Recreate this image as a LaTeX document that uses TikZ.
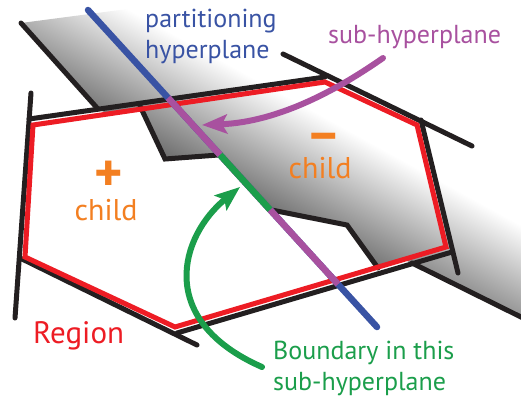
\documentclass[tikz,border=0pt]{standalone}
\usepackage{fontspec}
\setmainfont{PT Sans}
\usetikzlibrary{arrows.meta, calc}
\definecolor{hpblue}{HTML}{3953A4}
\definecolor{subpurple}{HTML}{A8519F}
\definecolor{bndgreen}{HTML}{1B9E4B}
\definecolor{regred}{HTML}{ED1C24}
\definecolor{childorange}{HTML}{F37F21}
\definecolor{edgeblack}{HTML}{231F20}

\begin{document}
\begin{tikzpicture}[
    x=1pt, y=-1pt,
    cutline/.style={draw=edgeblack, line width=5pt, line cap=round, line join=miter},
    regionline/.style={draw=regred, line width=5pt, line join=miter},
    hyperline/.style={draw=hpblue, line width=6.5pt, line cap=round},
    subline/.style={draw=subpurple, line width=6.5pt},
    bndline/.style={draw=bndgreen, line width=6.5pt},
    slabfill/.style={transform canvas={rotate around={-28.8:(470,205)}}, top color=white, bottom color=black!65},
    pointer/.style={line width=6pt, line cap=round, -{Stealth[length=25pt, width=19pt, inset=5pt]}},
    txt/.style={font=\fontsize{26}{31}\selectfont, align=left, inner sep=0pt},
    sign/.style={font=\fontsize{54}{54}\selectfont\bfseries, text=childorange, inner sep=0pt}
]
\useasboundingbox (0,0) rectangle (521,397);

% Points
\coordinate (r1) at (33,125);
\coordinate (r2) at (325,82);
\coordinate (r3) at (417,125);
\coordinate (r4) at (446,247);
\coordinate (r5) at (175,327);
\coordinate (r6) at (25,257);
\coordinate (hp1) at (88,10);
\coordinate (hp2) at (377,327);
\coordinate (sub1) at ($(hp1)!0.277!(hp2)$);
\coordinate (sub2) at ($(hp1)!0.865!(hp2)$);
\coordinate (gs) at ($(hp1)!0.457!(hp2)$);
\coordinate (ge) at ($(hp1)!0.630!(hp2)$);

% Slab
\begin{scope}
  \clip (21,23) -- (135,8) -- (521,-40) -- (521,317) -- (98,109) -- cycle;
  \shade[slabfill] (-700,198) rectangle (1000,325);
\end{scope}
\fill[white] (r1) -- (r2) -- (r3) -- (r4) -- (r5) -- (r6) -- cycle;
\begin{scope}
  \clip (140,107) -- (r2) -- (r3) -- (r4) -- (378,267) -- (347,225) -- (ge) -- (gs) -- (165,159) -- cycle;
  \shade[slabfill] (-700,198) rectangle (1000,325);
\end{scope}

% Edges
\draw[cutline] (31,93) -- (15,318);
\draw[cutline] (29,119) -- (325,77);
\draw[cutline] (283,54) -- (472,146);
\draw[cutline] (421,120) -- (458,273);
\draw[cutline] (452,252) -- (177,333);
\draw[cutline] (20,258) -- (197,345);
\draw[cutline] (140,106) -- (165,159) -- (gs);
\draw[cutline] (ge) -- (347,225) -- (378,268);
\draw[cutline] (21,23) -- (98,109);
\draw[cutline] (412,263) -- (525,319);
\draw[regionline] (r1) -- (r2) -- (r3) -- (r4) -- (r5) -- (r6) -- cycle;

% Hyperplane
\draw[hyperline] (hp1) -- (hp2);
\draw[subline] (sub1) -- (sub2);
\draw[bndline] (gs) -- (ge);

% Labels
\node[txt, text=hpblue, anchor=base west] (parttext) at (145,58) {partitioning\\hyperplane};
\node[txt, text=subpurple, anchor=base west] (subtext) at (328,43) {sub-hyperplane};
\node[sign] (plus) at (109,176) {+};
\node[txt, font=\fontsize{30}{34}\selectfont, text=childorange, anchor=base] (pluschild) at (106,220) {child};
\node[sign] (minus) at (324,144) {−};
\node[txt, font=\fontsize{30}{34}\selectfont, text=childorange, anchor=base] (minuschild) at (320,178) {child};
\node[txt, font=\fontsize{31}{35}\selectfont, text=regred, anchor=base west] (regiontext) at (33,343) {Region};
\node[txt, text=bndgreen, anchor=base west] (bndtext) at (273,390) {Boundary in this\\sub-hyperplane};

% Arrows
\coordinate (subtail) at (383,58);
\coordinate (subtip) at (202,125);
\coordinate (bndtail) at (262,367);
\coordinate (bndtip) at (240,187);
\draw[pointer, subpurple] (subtail) .. controls (340,88) and (280,122) .. (subtip);
\draw[pointer, bndgreen] (bndtail) .. controls (155,320) and (180,236) .. (bndtip);

\end{tikzpicture}
\end{document}
